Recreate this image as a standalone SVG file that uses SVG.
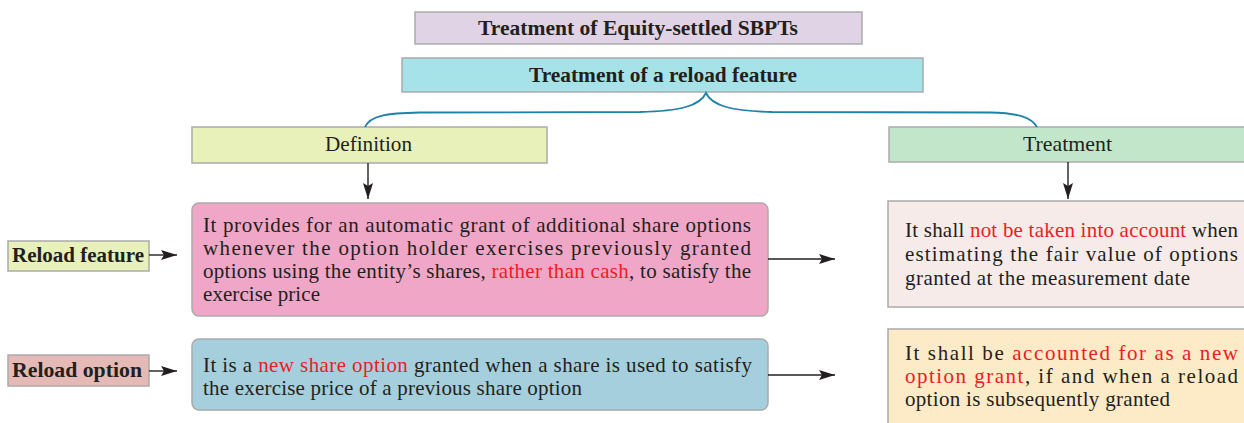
<svg xmlns="http://www.w3.org/2000/svg" width="1244" height="423" viewBox="0 0 1244 423">
<style>
.box{stroke:#ababab;stroke-width:1.5}
.t{font-family:"Liberation Serif","DejaVu Serif",serif;font-size:21px;fill:#231f20}
.b{font-weight:bold}
.r{fill:#ed1c24;font-family:"Liberation Serif","DejaVu Serif",serif}
.c{fill:none;stroke:#231f20;stroke-width:1.4}
</style>
<defs>
<marker id="ahs" viewBox="0 0 16 10" refX="16" refY="5" markerWidth="17" markerHeight="10" markerUnits="userSpaceOnUse" orient="auto">
<path d="M0,0 L16,5 L0,10 L3,5 Z" fill="#231f20"/>
</marker>
</defs>
<rect width="1244" height="423" fill="#fff"/>
<g id="title">
<rect class="box" x="415" y="12" width="447" height="32" fill="#e0d3e5"/>
<text class="t b" x="478" y="35" font-size="20" textLength="320" lengthAdjust="spacingAndGlyphs">Treatment of Equity-settled SBPTs</text>
</g>
<g id="reload-treatment">
<rect class="box" x="402" y="58" width="521" height="34" fill="#a5e3e8"/>
<text class="t b" x="529" y="82" font-size="20" textLength="268" lengthAdjust="spacingAndGlyphs">Treatment of a reload feature</text>
</g>
<g id="definition">
<rect class="box" x="192" y="127" width="355" height="36" fill="#e8f1b9"/>
<text class="t" x="325" y="151" textLength="87" lengthAdjust="spacingAndGlyphs">Definition</text>
</g>
<g id="treatment">
<rect class="box" x="889" y="127" width="360" height="35" fill="#c1e6c9"/>
<text class="t" x="1023" y="151" textLength="89" lengthAdjust="spacingAndGlyphs">Treatment</text>
</g>
<g id="reload-feature">
<rect class="box" x="8" y="241" width="141" height="30" fill="#e8f1b9"/>
<text class="t b" x="12" y="262" font-size="20" textLength="132" lengthAdjust="spacingAndGlyphs">Reload feature</text>
</g>
<g id="reload-option">
<rect class="box" x="8" y="355" width="141" height="31" fill="#e5b9b5"/>
<text class="t b" x="12" y="377" font-size="20" textLength="130" lengthAdjust="spacingAndGlyphs">Reload option</text>
</g>
<g id="feature-definition">
<rect class="box" x="192" y="203" width="576" height="113" rx="7" fill="#f0a7c7"/>
<text class="t" x="203" y="232" textLength="548" lengthAdjust="spacing">It provides for an automatic grant of additional share options</text>
<text class="t" x="203" y="255" textLength="548" lengthAdjust="spacing">whenever the option holder exercises previously granted</text>
<text class="t" x="203" y="278" textLength="548" lengthAdjust="spacing">options using the entity’s shares, <tspan class="r">rather than cash</tspan>, to satisfy the</text>
<text class="t" x="203" y="301" textLength="117" lengthAdjust="spacing">exercise price</text>
</g>
<g id="option-definition">
<rect class="box" x="192" y="339" width="576" height="71" rx="7" fill="#a6cfdd"/>
<text class="t" x="203" y="372" textLength="549" lengthAdjust="spacing">It is a <tspan class="r">new share option</tspan> granted when a share is used to satisfy</text>
<text class="t" x="203" y="395" textLength="379" lengthAdjust="spacing">the exercise price of a previous share option</text>
</g>
<g id="feature-treatment">
<rect class="box" x="888" y="201" width="360" height="106" fill="#f7ebea"/>
<text class="t" x="905" y="237" textLength="333" lengthAdjust="spacing">It shall <tspan class="r">not be taken into account</tspan> when</text>
<text class="t" x="905" y="261" textLength="333" lengthAdjust="spacing">estimating the fair value of options</text>
<text class="t" x="905" y="285" textLength="285" lengthAdjust="spacing">granted at the measurement date</text>
</g>
<g id="option-treatment">
<rect class="box" x="888" y="329" width="360" height="100" fill="#fdebc7"/>
<text class="t" x="905" y="360" textLength="333" lengthAdjust="spacing">It shall be <tspan class="r">accounted for as a new</tspan></text>
<text class="t" x="905" y="383" textLength="333" lengthAdjust="spacing"><tspan class="r">option grant</tspan>, if and when a reload</text>
<text class="t" x="905" y="406" textLength="265" lengthAdjust="spacing">option is subsequently granted</text>
</g>
<g id="connectors">
<path d="M365,127 C370,116 385,113 420,112.5 L640,112 C680,111 700,106 706,93 C712,106 732,111 772,112 L990,112.5 C1020,113 1032,118 1037,127" fill="none" stroke="#1b82a9" stroke-width="1.8"/>
<line class="c" x1="368" y1="163" x2="368" y2="199" marker-end="url(#ahs)"/>
<line class="c" x1="1068" y1="162" x2="1068" y2="199" marker-end="url(#ahs)"/>
<line class="c" x1="149" y1="255" x2="177" y2="255" marker-end="url(#ahs)"/>
<line class="c" x1="149" y1="371" x2="177" y2="371" marker-end="url(#ahs)"/>
<line class="c" x1="768" y1="259" x2="835" y2="259" marker-end="url(#ahs)"/>
<line class="c" x1="768" y1="375" x2="835" y2="375" marker-end="url(#ahs)"/>
</g>
</svg>
